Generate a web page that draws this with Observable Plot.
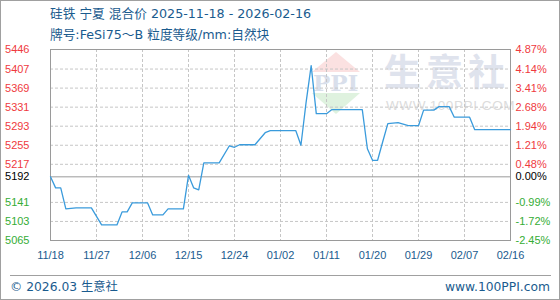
<!DOCTYPE html>
<html><head><meta charset="utf-8">
<script src="https://cdn.jsdelivr.net/npm/d3@7"></script>
<script src="https://cdn.jsdelivr.net/npm/@observablehq/plot@0.6"></script>
<style>
body{margin:0;background:#fff;}
#wrap{position:relative;width:560px;height:300px;overflow:hidden;font-family:"DejaVu Sans","Noto Sans CJK SC",sans-serif;color:#1a5b8e;}
#border{position:absolute;left:0;top:0;width:560px;height:300px;box-sizing:border-box;border:1px solid #a0a0a0;pointer-events:none;}
.t{position:absolute;left:50px;font-size:12.7px;line-height:14px;white-space:nowrap;}
#t1{top:7px;} #t2{top:28px;}
#chart{position:absolute;left:0;top:0;z-index:2;}
.wm{position:absolute;z-index:1;white-space:nowrap;}
#wm1{left:384px;top:48px;font-family:"Noto Sans CJK SC";font-weight:bold;font-size:37px;line-height:44px;letter-spacing:5px;color:#dfe3ed;}
#wm2{left:386px;top:99px;font-family:"Liberation Sans";font-size:13.5px;line-height:14px;letter-spacing:0.6px;color:#dcdcdc;}
#tri1{left:312px;top:52px;width:0;height:0;border-left:24px solid transparent;border-right:24px solid transparent;border-bottom:20px solid #fbe1e1;}
#tri2{left:312px;top:93px;width:0;height:0;border-left:24px solid transparent;border-right:24px solid transparent;border-top:21px solid #dff2df;}
#ppi{left:313px;top:71px;font-family:"DejaVu Serif";font-weight:bold;font-size:23px;line-height:24px;letter-spacing:0px;color:#d9dfeb;}
#fline{position:absolute;left:10px;top:275px;width:541px;height:1px;background:#a0a0a0;}
.f{position:absolute;top:280px;font-size:12.3px;line-height:14px;white-space:nowrap;}
#f1{left:10px;} #f2{right:10px;}
</style></head>
<body>
<div id="wrap">
  <div class="t" id="t1">硅铁 宁夏 混合价 2025-11-18 - 2026-02-16</div>
  <div class="t" id="t2">牌号:FeSi75～B 粒度等级/mm:自然块</div>
  <div class="wm" id="tri1"></div>
  <div class="wm" id="ppi">PPI</div>
  <div class="wm" id="tri2"></div>
  <div class="wm" id="wm1">生意社</div>
  <div class="wm" id="wm2">WWW.100PPI.COM</div>
  <div id="chart"></div>
  <div id="fline"></div>
  <div class="f" id="f1">© 2026.03 生意社</div>
  <div class="f" id="f2">www.100PPI.com</div>
  <div id="border"></div>
</div>
<script>
const dates = ["2025-11-18","2025-11-19","2025-11-20","2025-11-21","2025-11-23","2025-11-26","2025-11-28","2025-12-01","2025-12-02","2025-12-03","2025-12-04","2025-12-07","2025-12-08","2025-12-10","2025-12-11","2025-12-14","2025-12-15","2025-12-16","2025-12-17","2025-12-18","2025-12-21","2025-12-23","2025-12-24","2025-12-25","2025-12-28","2025-12-30","2025-12-31","2026-01-05","2026-01-06","2026-01-07","2026-01-08","2026-01-09","2026-01-11","2026-01-12","2026-01-18","2026-01-19","2026-01-20","2026-01-21","2026-01-22","2026-01-23","2026-01-25","2026-01-27","2026-01-29","2026-01-30","2026-02-01","2026-02-02","2026-02-04","2026-02-05","2026-02-08","2026-02-09","2026-02-16"];
const values = [5192,5170,5170,5128,5130,5130,5096,5096,5122,5122,5140,5140,5116,5116,5128,5128,5195,5170,5166,5220,5220,5254,5251,5256,5256,5280,5284,5284,5255,5340,5414,5318,5318,5326,5326,5248,5225,5225,5262,5298,5300,5294,5294,5325,5325,5332,5332,5311,5311,5286,5286];
const yTicks = [5446,5407,5369,5331,5293,5255,5217,5192,5141,5103,5065];
const pctLabels = ["4.87%","4.14%","3.41%","2.68%","1.94%","1.21%","0.48%","0.00%","-0.99%","-1.72%","-2.45%"];
const xTickDates = ["2025-11-18","2025-11-27","2025-12-06","2025-12-15","2025-12-24","2026-01-02","2026-01-11","2026-01-20","2026-01-29","2026-02-07","2026-02-16"];
const baseValue = 5192;

const parse = s => new Date(s + "T00:00:00Z");
const data = dates.map((d, i) => ({date: parse(d), value: values[i]}));
const xt = xTickDates.map(parse);
const upTicks = yTicks.filter(v => v > baseValue);
const downTicks = yTicks.filter(v => v < baseValue);
const yMin = d3.min(yTicks), yMax = d3.max(yTicks);
const fmtPct = v => pctLabels[yTicks.indexOf(v)];
const fmtNum = v => String(v);
const RED = "#ef3a3e", GREEN = "#35ad35", BLACK = "#000", BLUE = "#1a5b8e";

const axisCommon = {tickSize: 0, label: null};
const chart = Plot.plot({
  width: 560, height: 300,
  marginTop: 49, marginBottom: 60, marginLeft: 50, marginRight: 50,
  style: {background: "transparent", fontFamily: "Liberation Sans, sans-serif", fontSize: "11px"},
  x: {type: "utc", domain: [xt[0], xt[xt.length - 1]], label: null},
  y: {domain: [yMin, yMax], label: null},
  marks: [
    Plot.gridY({ticks: yTicks.filter(v => v !== baseValue && v !== yMin && v !== yMax), stroke: "#c6c6c6", strokeOpacity: 1, strokeDasharray: "3,2"}),
    Plot.gridX({ticks: xt.slice(1, -1), stroke: "#c6c6c6", strokeOpacity: 1, strokeDasharray: "3,2"}),
    Plot.ruleY([baseValue], {stroke: "#9a9a9a"}),
    Plot.frame({stroke: "#9a9a9a"}),
    Plot.axisY({...axisCommon, anchor: "left", ticks: upTicks, tickFormat: fmtNum, tickPadding: 21, fill: RED}),
    Plot.axisY({...axisCommon, anchor: "left", ticks: [baseValue], tickFormat: fmtNum, tickPadding: 21, fill: BLACK}),
    Plot.axisY({...axisCommon, anchor: "left", ticks: downTicks, tickFormat: fmtNum, tickPadding: 21, fill: GREEN}),
    Plot.axisY({...axisCommon, anchor: "right", ticks: upTicks, tickFormat: fmtPct, tickPadding: 5, fill: RED}),
    Plot.axisY({...axisCommon, anchor: "right", ticks: [baseValue], tickFormat: fmtPct, tickPadding: 5, fill: BLACK}),
    Plot.axisY({...axisCommon, anchor: "right", ticks: downTicks, tickFormat: fmtPct, tickPadding: 5, fill: GREEN}),
    Plot.axisX({...axisCommon, ticks: xt, tickFormat: d3.utcFormat("%m/%d"), tickPadding: 11, fill: BLUE}),
    Plot.line(data, {x: "date", y: "value", stroke: "#3a9bdc", strokeWidth: 1.3})
  ]
});
document.getElementById("chart").appendChild(chart);
</script>
</body></html>
